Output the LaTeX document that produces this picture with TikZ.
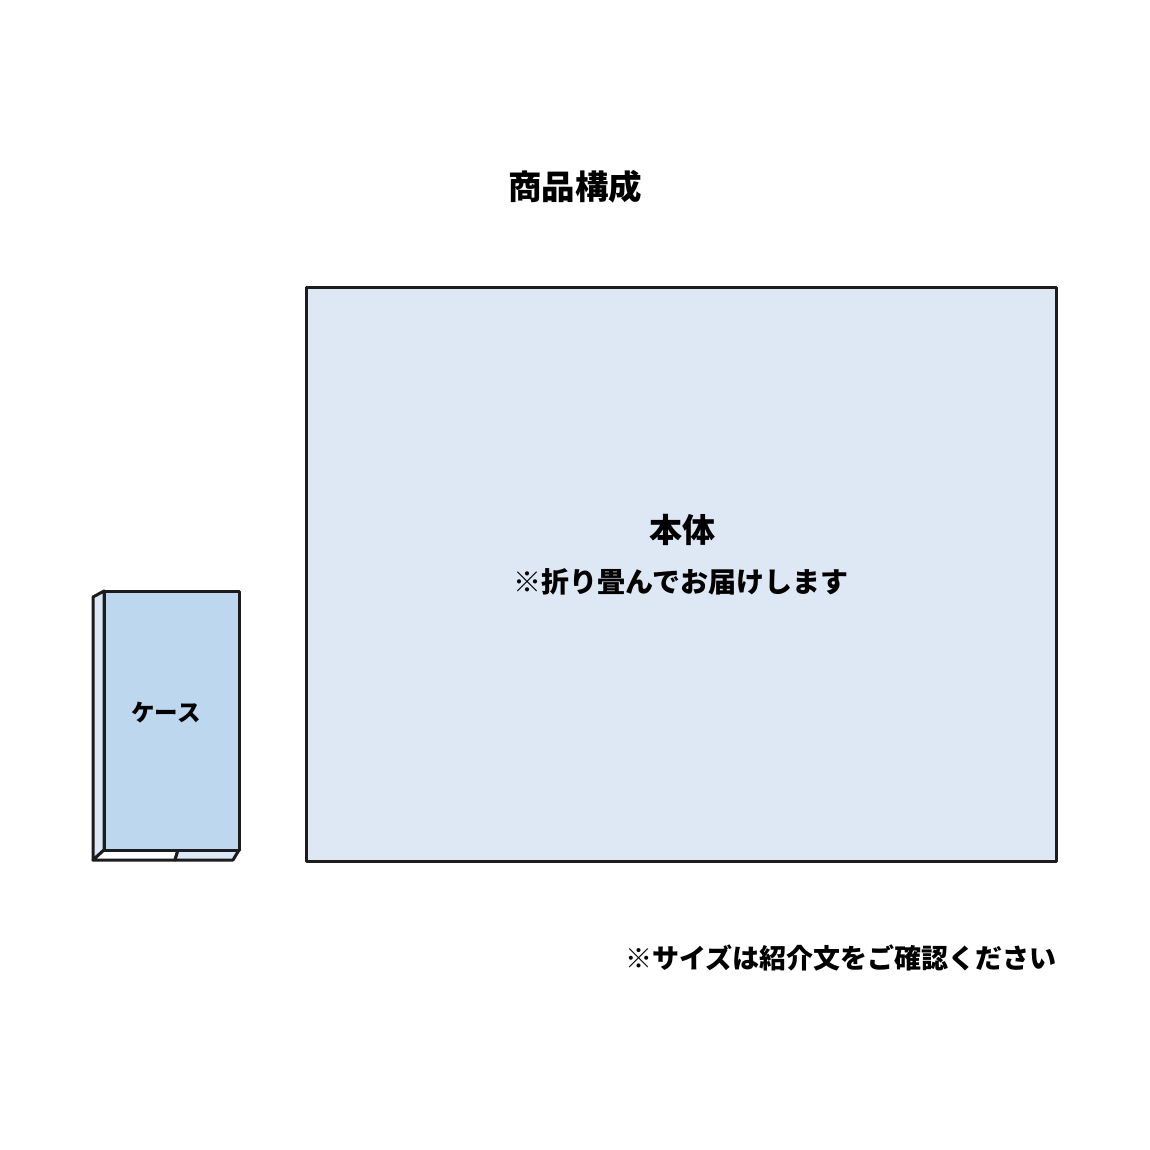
\documentclass[tikz,border=0pt]{standalone}
\usepackage{fontspec}
\newfontfamily\jpfont{Noto Sans CJK JP}
\usetikzlibrary{positioning}
\definecolor{bodyblue}{HTML}{DDE8F4}
\definecolor{caseblue}{HTML}{BDD7EE}
\definecolor{sideblue}{HTML}{DCE8F5}
\definecolor{edgegray}{HTML}{1C1C1C}
\tikzset{
  outline/.style={draw=edgegray,line width=3pt,line join=round},
  bodybox/.style={outline,rectangle,fill=bodyblue,minimum width=750pt,minimum height=574pt,inner sep=0pt},
  casebox/.style={outline,rectangle,fill=caseblue,minimum width=135pt,minimum height=259pt,inner sep=0pt},
  label/.style={font=\jpfont\bfseries,text=black,inner sep=0pt}
}
\begin{document}
\begin{tikzpicture}[x=1pt,y=-1pt]
                \useasboundingbox[fill=white] (0,0) rectangle (1150,1150);
                \path (575,187) node[label,font=\jpfont\bfseries\fontsize{33.5}{33.5}\selectfont] (title) {商品構成};

                % main item
                \path (681,574) node[bodybox] (body) {};
                \path (682,530) node[label,font=\jpfont\bfseries\fontsize{33}{33}\selectfont] (bodyname) {本体};
                \path (681,582) node[label,font=\jpfont\bfseries\fontsize{28}{28}\selectfont] (bodynote) {※折り畳んでお届けします};

                % case, drawn as a thin box
                \filldraw[outline,fill=sideblue] (93,597) -- (104,591) -- (104,850) -- (93,860) -- cycle;
                \filldraw[outline,fill=white] (104,850) -- (178,850) -- (175,860) -- (93,860) -- cycle;
                \filldraw[outline,fill=sideblue] (178,850) -- (239,850) -- (233,860) -- (175,860) -- cycle;
                \path (171.5,720.5) node[casebox] (case) {};
                \path (166,713) node[label,font=\jpfont\bfseries\fontsize{23.5}{23.5}\selectfont] (casename) {ケース};

                \path (1057,958) node[label,anchor=east,font=\jpfont\bfseries\fontsize{27}{27}\selectfont] (sizenote) {※サイズは紹介文をご確認ください};
              \end{tikzpicture}
\end{document}
